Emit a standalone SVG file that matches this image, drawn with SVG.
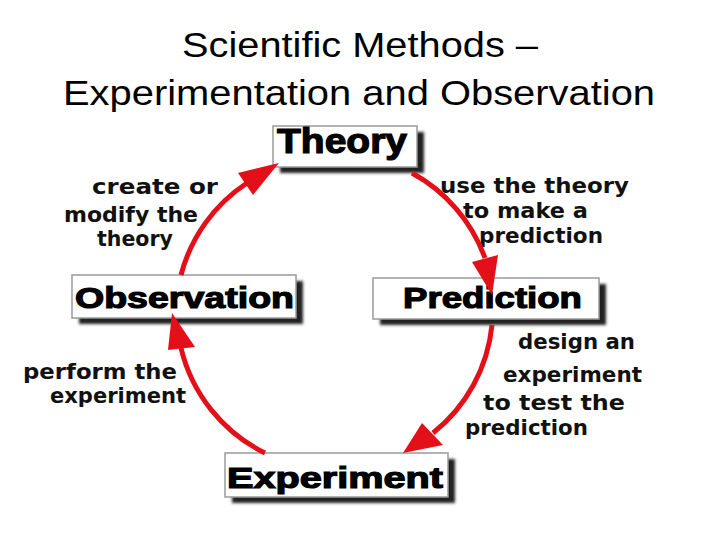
<svg xmlns="http://www.w3.org/2000/svg" width="720" height="540" viewBox="0 0 720 540">
<defs>
<filter id="blur" x="-10%" y="-20%" width="120%" height="140%"><feGaussianBlur stdDeviation="1.6"/></filter>
</defs>
<style>
.title{font-family:"Liberation Sans",Arial,sans-serif;font-size:35px;fill:#000;text-anchor:middle}
.box{fill:#fff;stroke:#9a9a9a;stroke-width:1.5}
.shadow{fill:#222;filter:url(#blur)}
.node{font-family:"Liberation Sans",Arial,sans-serif;font-weight:bold;fill:#000;stroke:#000;stroke-width:1.2}
.lbl{font-family:"DejaVu Sans","Liberation Sans",sans-serif;font-weight:bold;font-size:22px;fill:#111}
.arc{fill:none;stroke:#e3101a;stroke-width:5}
.head{fill:#e3101a}
</style>
<rect width="720" height="540" fill="#fff"/>
<text class="title" x="360" y="57" textLength="356" lengthAdjust="spacingAndGlyphs">Scientific Methods –</text>
<text class="title" x="359" y="105" textLength="592" lengthAdjust="spacingAndGlyphs">Experimentation and Observation</text>

<g id="theory">
<rect class="shadow" x="280" y="132" width="144" height="41"/>
<rect class="box" x="273" y="126" width="144" height="41"/>
<text class="node" x="277" y="153" font-size="35" textLength="130" lengthAdjust="spacingAndGlyphs">Theory</text>
</g>
<g id="observation">
<rect class="shadow" x="79" y="281" width="224" height="43"/>
<rect class="box" x="72" y="275" width="224" height="43"/>
<text class="node" x="75" y="308" font-size="30" textLength="219" lengthAdjust="spacingAndGlyphs">Observation</text>
</g>
<g id="prediction">
<rect class="shadow" x="380" y="284" width="226" height="41"/>
<rect class="box" x="373" y="278" width="226" height="41"/>
<text class="node" x="403" y="308" font-size="30" textLength="179" lengthAdjust="spacingAndGlyphs">Prediction</text>
</g>
<g id="experiment">
<rect class="shadow" x="232" y="459" width="223" height="44"/>
<rect class="box" x="225" y="453" width="223" height="44"/>
<text class="node" x="227" y="488" font-size="30" textLength="216" lengthAdjust="spacingAndGlyphs">Experiment</text>
</g>

<g id="labels">
<text class="lbl" x="92" y="194" textLength="126" lengthAdjust="spacingAndGlyphs">create or</text>
<text class="lbl" x="64" y="222" textLength="134" lengthAdjust="spacingAndGlyphs">modify the</text>
<text class="lbl" x="97" y="246" textLength="76" lengthAdjust="spacingAndGlyphs">theory</text>
<text class="lbl" x="440" y="193" textLength="189" lengthAdjust="spacingAndGlyphs">use the theory</text>
<text class="lbl" x="463" y="218" textLength="125" lengthAdjust="spacingAndGlyphs">to make a</text>
<text class="lbl" x="479" y="243" textLength="124" lengthAdjust="spacingAndGlyphs">prediction</text>
<text class="lbl" x="518" y="349" textLength="117" lengthAdjust="spacingAndGlyphs">design an</text>
<text class="lbl" x="503" y="382" textLength="139" lengthAdjust="spacingAndGlyphs">experiment</text>
<text class="lbl" x="483" y="410" textLength="142" lengthAdjust="spacingAndGlyphs">to test the</text>
<text class="lbl" x="465" y="435" textLength="123" lengthAdjust="spacingAndGlyphs">prediction</text>
<text class="lbl" x="23" y="379" textLength="154" lengthAdjust="spacingAndGlyphs">perform the</text>
<text class="lbl" x="50" y="403" textLength="136" lengthAdjust="spacingAndGlyphs">experiment</text>
</g>

<g id="connectors">
<path class="arc" d="M 181 275 A 158 158 0 0 1 247 183"/>
<polygon class="head" points="279,163 238,173 253,195"/>
<path class="arc" d="M 412 173 A 158 158 0 0 1 485 258"/>
<polygon class="head" points="492,295 472,262 498,255"/>
<path class="arc" d="M 492 325 A 158 158 0 0 1 433 433"/>
<polygon class="head" points="403,453 422,423 443,445"/>
<path class="arc" d="M 265 453 A 158 158 0 0 1 181 348"/>
<polygon class="head" points="172,313 168,350 195,347"/>
</g>
</svg>
